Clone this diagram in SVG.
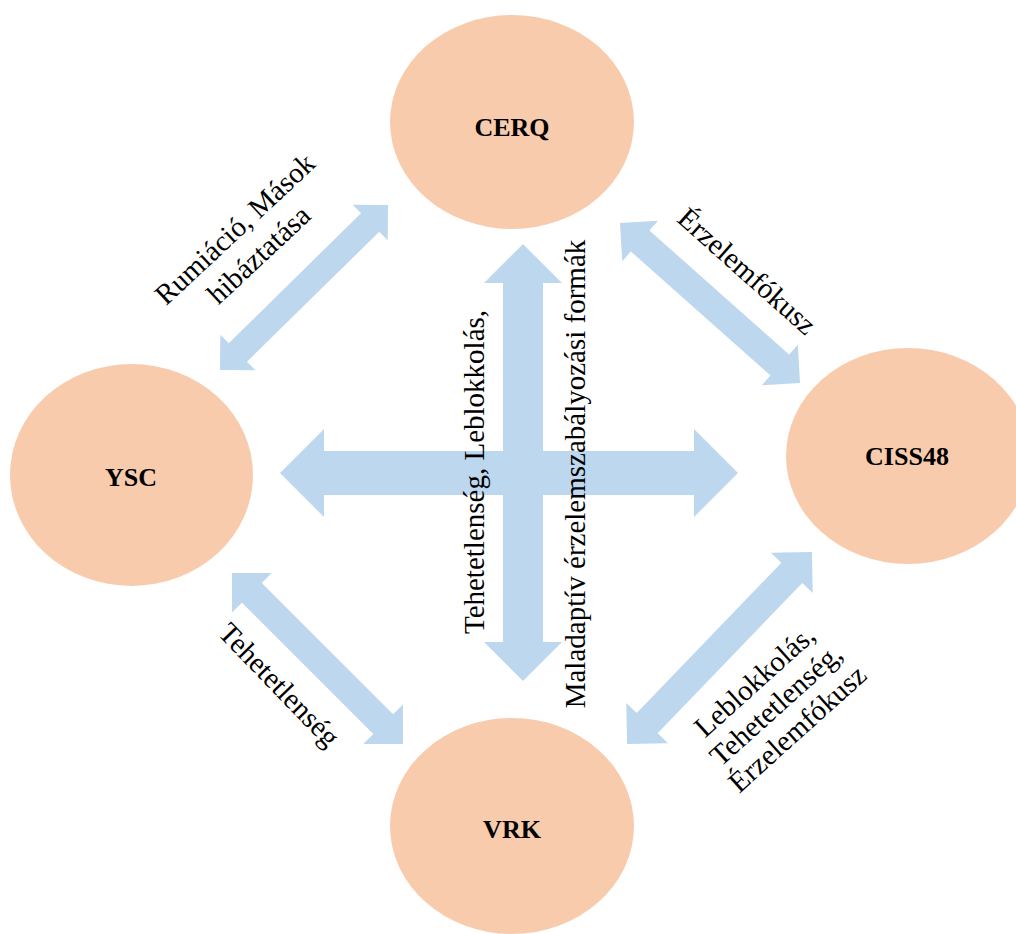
<svg xmlns="http://www.w3.org/2000/svg" width="1016" height="934" viewBox="0 0 1016 934">
<style>
.node{fill:#F8CBAD;}
.arr{fill:#BDD7EE;}
.nl{font-family:"Liberation Serif","Times New Roman",serif;font-weight:bold;font-size:26px;fill:#000;text-anchor:middle;}
.lb{font-family:"Liberation Serif","Times New Roman",serif;font-size:29px;fill:#000;text-anchor:middle;}
</style>
<rect width="1016" height="934" fill="#fff"/>
<g id="CERQ"><ellipse class="node" cx="512" cy="122" rx="122" ry="107"/><text class="nl" x="512" y="136">CERQ</text></g>
<g id="YSC"><ellipse class="node" cx="131.5" cy="475" rx="121.5" ry="111"/><text class="nl" x="131" y="486">YSC</text></g>
<g id="CISS48"><ellipse class="node" cx="908" cy="456" rx="122" ry="108"/><text class="nl" x="907" y="465">CISS48</text></g>
<g id="VRK"><ellipse class="node" cx="512" cy="826" rx="122" ry="108"/><text class="nl" x="512" y="838">VRK</text></g>
<g id="connectors">
<polygon class="arr" points="280,473 324,429 324,451 694,451 694,429 738,473 694,517 694,495 324,495 324,517"/>
<polygon class="arr" points="523,244 562,283 543,283 543,642 562,642 523,681 484,642 503,642 503,283 484,283"/>
<polygon class="arr" transform="translate(304,287.5) rotate(-44.5)" points="-117.75,0 -92.75,-25 -92.75,-13 92.75,-13 92.75,-25 117.75,0 92.75,25 92.75,13 -92.75,13 -92.75,25"/>
<polygon class="arr" transform="translate(710,303) rotate(41.6)" points="-120.4,0 -93.4,-27 -93.4,-14 93.4,-14 93.4,-27 120.4,0 93.4,27 93.4,14 -93.4,14 -93.4,27"/>
<polygon class="arr" transform="translate(317.5,658.5) rotate(45)" points="-120.9,0 -92.9,-28 -92.9,-14 92.9,-14 92.9,-28 120.9,0 92.9,28 92.9,14 -92.9,14 -92.9,28"/>
<polygon class="arr" transform="translate(719.5,648) rotate(-46.1)" points="-133.3,0 -104.3,-29 -104.3,-14.5 104.3,-14.5 104.3,-29 133.3,0 104.3,29 104.3,14.5 -104.3,14.5 -104.3,29"/>
</g>
<g id="labels">
<g transform="translate(248,243) rotate(-43)"><text class="lb" x="0" y="-9.5">Rumiáció, Mások</text><text class="lb" x="0" y="25.5">hibáztatása</text></g>
<g transform="translate(746,272.5) rotate(41.6)"><text class="lb" x="0" y="8">Érzelemfókusz</text></g>
<g transform="translate(278,686) rotate(46)"><text class="lb" x="0" y="8">Tehetetlenség</text></g>
<g transform="translate(777,706) rotate(-42)"><text class="lb" x="0" y="-24">Leblokkolás,</text><text class="lb" x="0" y="8">Tehetetlenség,</text><text class="lb" x="0" y="40">Érzelemfókusz</text></g>
<g transform="translate(484,472) rotate(-90)"><text class="lb" x="0" y="0">Tehetetlenség, Leblokkolás,</text></g>
<g transform="translate(585,474) rotate(-90)"><text class="lb" x="0" y="0">Maladaptív érzelemszabályozási formák</text></g>
</g>
</svg>
